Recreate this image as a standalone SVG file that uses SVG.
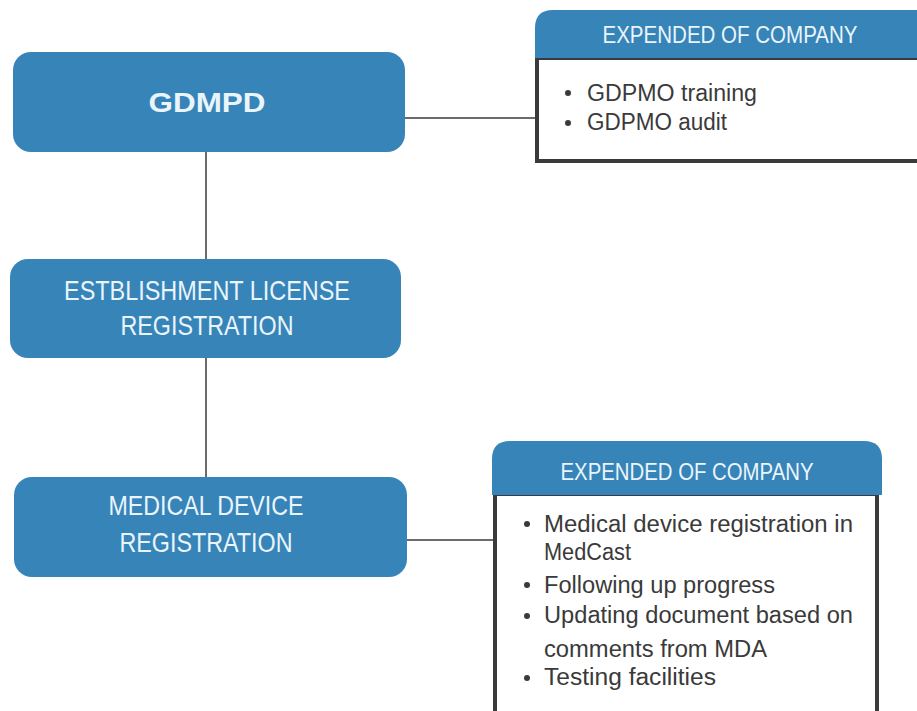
<svg xmlns="http://www.w3.org/2000/svg" width="917" height="711" viewBox="0 0 917 711">
<style>
.box{fill:#3784b9}
.bt{fill:#eaf5fb;font-family:"Liberation Sans",Arial,sans-serif;font-size:28px;text-anchor:middle}
.hd{fill:#eaf5fb;font-family:"Liberation Sans",Arial,sans-serif;font-size:23px;text-anchor:middle}
.body{fill:#fff;stroke:#3a3a3a;stroke-width:4}
.li{fill:#3a3a3a;font-family:"Liberation Sans",Arial,sans-serif;font-size:23px}
.conn{stroke:#3a3a3a;stroke-width:1.5;fill:none}
</style>
<rect width="917" height="711" fill="#fff"/>
<g id="connectors">
<line class="conn" x1="206" y1="152" x2="206" y2="260"/>
<line class="conn" x1="206" y1="358" x2="206" y2="478"/>
<line class="conn" x1="405" y1="118" x2="536" y2="118"/>
<line class="conn" x1="407" y1="540" x2="494" y2="540"/>
</g>
<g id="gdmpd">
<rect class="box" x="13" y="52" width="392" height="100" rx="18"/>
<text class="bt" x="207" y="112" font-size="34" font-weight="bold" textLength="117" lengthAdjust="spacingAndGlyphs">GDMPD</text>
</g>
<g id="establishment">
<rect class="box" x="10" y="259" width="391" height="99" rx="18"/>
<text class="bt" x="207" y="300" textLength="286" lengthAdjust="spacingAndGlyphs">ESTBLISHMENT LICENSE</text>
<text class="bt" x="207" y="335" textLength="173" lengthAdjust="spacingAndGlyphs">REGISTRATION</text>
</g>
<g id="medical">
<rect class="box" x="14" y="477" width="393" height="100" rx="18"/>
<text class="bt" x="206" y="515" textLength="195" lengthAdjust="spacingAndGlyphs">MEDICAL DEVICE</text>
<text class="bt" x="206" y="552" textLength="173" lengthAdjust="spacingAndGlyphs">REGISTRATION</text>
</g>
<g id="panel-top">
<rect class="body" x="537" y="58" width="385" height="103"/>
<path class="box" d="M535,58 V28 Q535,10 553,10 H917 V58 Z"/>
<text class="hd" x="730" y="43" textLength="255" lengthAdjust="spacingAndGlyphs">EXPENDED OF COMPANY</text>
<circle cx="568" cy="93" r="3" fill="#3a3a3a"/>
<circle cx="568" cy="123" r="3" fill="#3a3a3a"/>
<text class="li" x="587" y="101" textLength="170" lengthAdjust="spacingAndGlyphs">GDPMO training</text>
<text class="li" x="587" y="130" textLength="140" lengthAdjust="spacingAndGlyphs">GDPMO audit</text>
</g>
<g id="panel-bottom">
<rect class="body" x="495" y="494" width="382" height="225"/>
<path class="box" d="M492,495 V459 Q492,441 510,441 H864 Q882,441 882,459 V495 Z"/>
<text class="hd" x="687" y="480" textLength="253" lengthAdjust="spacingAndGlyphs">EXPENDED OF COMPANY</text>
<circle cx="527" cy="524" r="3" fill="#3a3a3a"/>
<circle cx="527" cy="585" r="3" fill="#3a3a3a"/>
<circle cx="527" cy="616" r="3" fill="#3a3a3a"/>
<circle cx="527" cy="678" r="3" fill="#3a3a3a"/>
<text class="li" x="544" y="532" textLength="309" lengthAdjust="spacingAndGlyphs">Medical device registration in</text>
<text class="li" x="544" y="560" textLength="87" lengthAdjust="spacingAndGlyphs">MedCast</text>
<text class="li" x="544" y="593" textLength="231" lengthAdjust="spacingAndGlyphs">Following up progress</text>
<text class="li" x="544" y="623" textLength="309" lengthAdjust="spacingAndGlyphs">Updating document based on</text>
<text class="li" x="544" y="657" textLength="223" lengthAdjust="spacingAndGlyphs">comments from MDA</text>
<text class="li" x="544" y="685" textLength="172" lengthAdjust="spacingAndGlyphs">Testing facilities</text>
</g>
</svg>
